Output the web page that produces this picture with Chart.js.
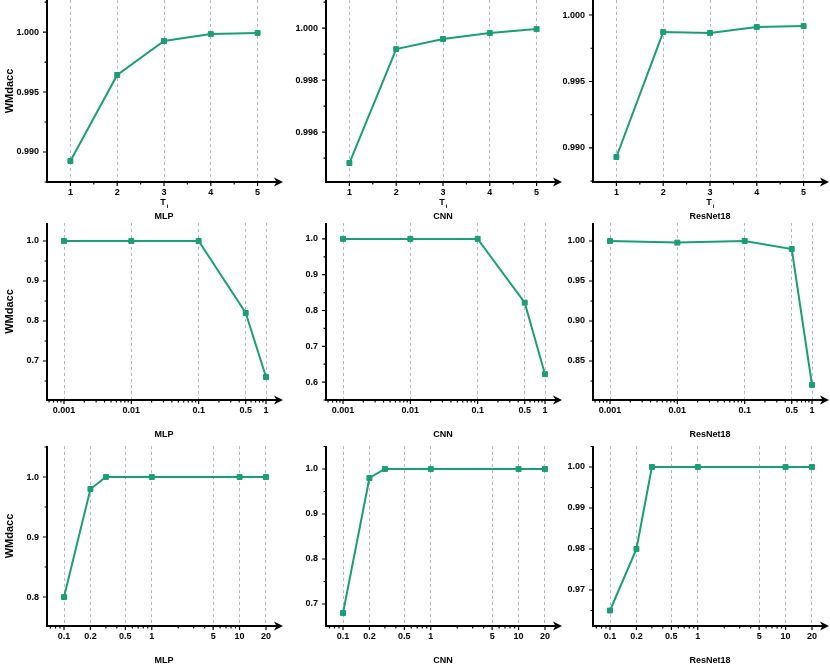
<!DOCTYPE html>
<html>
<head>
<meta charset="utf-8">
<script src="https://cdn.jsdelivr.net/npm/chart.js@4.4.1/dist/chart.umd.min.js"></script>
<style>
  html, body { margin: 0; padding: 0; background: #fff; }
  #wrap { position: relative; width: 830px; height: 671px; overflow: hidden; }
  #wrap canvas { position: absolute; }
</style>
</head>
<body>
<div id="wrap"></div>
<script>
// column names
var models = ['MLP', 'CNN', 'ResNet18'];

// row 1: x = T_i
var tiValues = [1, 2, 3, 4, 5];
var tiTickLabels = ['1', '2', '3', '4', '5'];
var mlpByTi = [0.98925, 0.99642, 0.99925, 0.99983, 0.99992];
var cnnByTi = [0.99481, 0.99919, 0.99958, 0.99981, 0.99996];
var resByTi = [0.98932, 0.99872, 0.99865, 0.99910, 0.99917];

// row 2: log x, 0.001 .. 1
var rateValues = [0.001, 0.01, 0.1, 0.5, 1];
var rateTickLabels = ['0.001', '0.01', '0.1', '0.5', '1'];
var mlpByRate = [1.0, 1.0, 1.0, 0.82, 0.66];
var cnnByRate = [1.0, 1.0, 1.0, 0.822, 0.622];
var resByRate = [1.0, 0.998, 1.0, 0.99, 0.82];

// row 3: log x, 0.1 .. 20
var wValues = [0.1, 0.2, 0.3, 1, 10, 20];
var wTickLabels = ['0.1', '0.2', '0.5', '1', '5', '10', '20'];
var mlpByW = [0.80, 0.98, 1.0, 1.0, 1.0, 1.0];
var cnnByW = [0.68, 0.98, 1.0, 1.0, 1.0, 1.0];
var resByW = [0.965, 0.98, 1.0, 1.0, 1.0, 1.0];

// y tick labels per panel
var yTicksMlpTi = ['0.990', '0.995', '1.000'];
var yTicksCnnTi = ['0.996', '0.998', '1.000'];
var yTicksResTi = ['0.990', '0.995', '1.000'];
var yTicksMlpRate = ['0.7', '0.8', '0.9', '1.0'];
var yTicksCnnRate = ['0.6', '0.7', '0.8', '0.9', '1.0'];
var yTicksResRate = ['0.85', '0.90', '0.95', '1.00'];
var yTicksMlpW = ['0.8', '0.9', '1.0'];
var yTicksCnnW = ['0.7', '0.8', '0.9', '1.0'];
var yTicksResW = ['0.97', '0.98', '0.99', '1.00'];

var green = '#1b9e77';
var fontFam = '"Liberation Sans", Arial, Helvetica, sans-serif';

// layout of the grid
var cols = [{ cx: 0, yw: 47, pr: 6 }, { cx: 276, yw: 50, pr: 6 }, { cx: 551, yw: 42, pr: 3 }];
var rows = [{ top: 0, bottom: 182 }, { top: 223, bottom: 400 }, { top: 446, bottom: 626 }];
var plotW = 234, xh = 46;

function logMinors(min, max, majors) {
  var out = [];
  for (var e = -4; e <= 2; e++) {
    for (var m = 1; m <= 9; m++) {
      var v = +(m * Math.pow(10, e)).toPrecision(6);
      if (v > min && v < max && majors.indexOf(v) < 0) out.push(v);
    }
  }
  return out;
}
function linMinors(min, max, step, majors) {
  var out = [];
  var start = Math.ceil(min / step - 1e-9);
  for (var k = start; k * step <= max + 1e-12; k++) {
    var v = +(k * step).toFixed(6);
    var isMajor = majors.some(function (m) { return Math.abs(m - v) < step / 10; });
    if (!isMajor) out.push(v);
  }
  return out;
}

var rowDefs = [
  { type: 'linear', xs: tiValues, xTicks: tiTickLabels, xMin: 0.5, xMax: 5.5, xMinor: [1.5, 2.5, 3.5, 4.5], ti: true,
    panels: [
      { ys: mlpByTi, yTicks: yTicksMlpTi, yMin: 0.9875, yMax: 1.00267, yStep: 0.0025 },
      { ys: cnnByTi, yTicks: yTicksCnnTi, yMin: 0.99408, yMax: 1.00108, yStep: 0.001 },
      { ys: resByTi, yTicks: yTicksResTi, yMin: 0.98744, yMax: 1.00113, yStep: 0.0025 }
    ] },
  { type: 'logarithmic', xs: rateValues, xTicks: rateTickLabels, xMin: 0.000559, xMax: 1.67, ti: false,
    panels: [
      { ys: mlpByRate, yTicks: yTicksMlpRate, yMin: 0.6025, yMax: 1.045, yStep: 0.05 },
      { ys: cnnByRate, yTicks: yTicksCnnRate, yMin: 0.55, yMax: 1.0444, yStep: 0.05 },
      { ys: resByRate, yTicks: yTicksResRate, yMin: 0.80125, yMax: 1.0225, yStep: 0.025 }
    ] },
  { type: 'logarithmic', xs: wValues, xTicks: wTickLabels, xMin: 0.064, xMax: 29.65, ti: false,
    panels: [
      { ys: mlpByW, yTicks: yTicksMlpW, yMin: 0.7517, yMax: 1.0517, yStep: 0.05 },
      { ys: cnnByW, yTicks: yTicksCnnW, yMin: 0.6511, yMax: 1.0511, yStep: 0.05 },
      { ys: resByW, yTicks: yTicksResW, yMin: 0.96122, yMax: 1.00512, yStep: 0.005 }
    ] }
];

// axis lines, arrows, tick marks, axis names
var axisDecor = {
  id: 'axisDecor',
  afterDraw: function (chart) {
    var o = chart.options.plugins.axisDecor;
    var ctx = chart.ctx, a = chart.chartArea;
    var sx = chart.scales.x, sy = chart.scales.y;
    ctx.save();
    ctx.strokeStyle = '#000';
    ctx.fillStyle = '#000';
    ctx.lineWidth = 2;
    ctx.beginPath();
    ctx.moveTo(a.left, a.top);
    ctx.lineTo(a.left, a.bottom + 1);
    ctx.moveTo(a.left - 1, a.bottom);
    ctx.lineTo(a.right - 4, a.bottom);
    ctx.stroke();
    var tip = a.right + 2;
    ctx.beginPath();
    ctx.moveTo(tip, a.bottom);
    ctx.lineTo(tip - 9, a.bottom - 4.5);
    ctx.lineTo(tip - 6.5, a.bottom);
    ctx.lineTo(tip - 9, a.bottom + 4.5);
    ctx.closePath();
    ctx.fill();

    ctx.lineWidth = 1.2;
    ctx.beginPath();
    sx.ticks.forEach(function (t) {
      var px = sx.getPixelForValue(t.value);
      ctx.moveTo(px, a.bottom); ctx.lineTo(px, a.bottom + 4);
    });
    o.xMinor.forEach(function (v) {
      var px = sx.getPixelForValue(v);
      ctx.moveTo(px, a.bottom); ctx.lineTo(px, a.bottom + 2.5);
    });
    sy.ticks.forEach(function (t) {
      var py = sy.getPixelForValue(t.value);
      ctx.moveTo(a.left, py); ctx.lineTo(a.left - 4, py);
    });
    o.yMinor.forEach(function (v) {
      var py = sy.getPixelForValue(v);
      ctx.moveTo(a.left, py); ctx.lineTo(a.left - 2.5, py);
    });
    ctx.stroke();

    var cx = (a.left + a.right) / 2;
    ctx.textAlign = 'center';
    ctx.textBaseline = 'middle';
    ctx.font = 'bold 9px ' + fontFam;
    if (o.ti) {
      ctx.textAlign = 'left';
      var wT = ctx.measureText('T').width;
      ctx.fillText('T', cx - wT / 2 - 1, a.bottom + 21);
      ctx.font = 'bold 6px ' + fontFam;
      ctx.fillText('i', cx + wT / 2, a.bottom + 24);
      ctx.textAlign = 'center';
      ctx.font = 'bold 9px ' + fontFam;
    }
    ctx.fillText(o.name, cx, a.bottom + 35);
    ctx.restore();
  }
};

var wrap = document.getElementById('wrap');

rowDefs.forEach(function (rd, ri) {
  var row = rows[ri];
  rd.panels.forEach(function (pd, ci) {
    var col = cols[ci];
    var cw = col.yw + plotW + col.pr;
    var ch = (row.bottom - row.top) + xh;
    var canvas = document.createElement('canvas');
    canvas.width = cw;
    canvas.height = ch;
    canvas.style.left = col.cx + 'px';
    canvas.style.top = row.top + 'px';
    canvas.style.width = cw + 'px';
    canvas.style.height = ch + 'px';
    wrap.appendChild(canvas);

    var yVals = pd.yTicks.map(parseFloat);
    var xVals = rd.xTicks.map(parseFloat);
    var xMinor = rd.type === 'logarithmic' ? logMinors(rd.xMin, rd.xMax, xVals) : rd.xMinor;
    var yMinor = linMinors(pd.yMin, pd.yMax, pd.yStep, yVals);

    new Chart(canvas.getContext('2d'), {
      type: 'line',
      data: {
        datasets: [{
          data: rd.xs.map(function (x, i) { return { x: x, y: pd.ys[i] }; }),
          borderColor: green,
          backgroundColor: green,
          borderWidth: 2,
          pointStyle: 'rect',
          pointRadius: 3.5,
          pointBorderWidth: 1,
          pointBackgroundColor: green,
          pointBorderColor: green,
          tension: 0,
          clip: false
        }]
      },
      options: {
        responsive: false,
        animation: false,
        events: [],
        layout: { autoPadding: false, padding: { left: 0, top: 0, right: col.pr, bottom: 0 } },
        plugins: {
          legend: { display: false },
          tooltip: { enabled: false },
          axisDecor: { xMinor: xMinor, yMinor: yMinor, name: models[ci], ti: rd.ti }
        },
        scales: {
          x: {
            type: rd.type,
            min: rd.xMin,
            max: rd.xMax,
            afterBuildTicks: function (s) { s.ticks = xVals.map(function (v) { return { value: v }; }); },
            afterFit: function (s) { s.height = xh; s.paddingLeft = 0; s.paddingRight = 0; },
            grid: { display: true, color: '#b8b8b8', lineWidth: 1, drawTicks: false },
            border: { display: false, dash: [3, 3] },
            ticks: {
              autoSkip: false, maxRotation: 0, padding: 5, color: '#000',
              font: { family: fontFam, size: 9, weight: 'bold' },
              callback: function (v, i) { return rd.xTicks[i]; }
            }
          },
          y: {
            type: 'linear',
            min: pd.yMin,
            max: pd.yMax,
            afterBuildTicks: function (s) { s.ticks = yVals.map(function (v) { return { value: v }; }); },
            afterFit: function (s) { s.width = col.yw; s.paddingTop = 0; s.paddingBottom = 0; },
            grid: { display: false, drawTicks: false },
            border: { display: false },
            title: {
              display: ci === 0, text: 'WMdacc', color: '#000',
              font: { family: fontFam, size: 11, weight: 'bold' },
              padding: { top: 3.5, bottom: 0 }
            },
            ticks: {
              padding: 8, color: '#000',
              font: { family: fontFam, size: 9, weight: 'bold' },
              callback: function (v, i) { return pd.yTicks[i]; }
            }
          }
        }
      },
      plugins: [axisDecor]
    });
  });
});
</script>
</body>
</html>
